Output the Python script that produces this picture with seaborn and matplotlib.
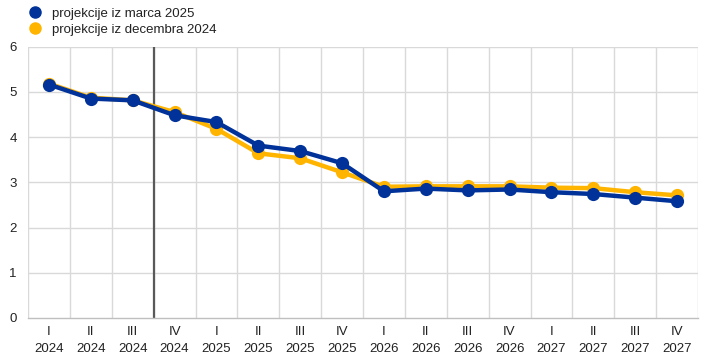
import matplotlib
matplotlib.use("Agg")
import matplotlib.pyplot as plt
from matplotlib.lines import Line2D
import seaborn as sns
import pandas as pd
import numpy as np

quarters = ["I", "II", "III", "IV"] * 4
years = ["2024"] * 4 + ["2025"] * 4 + ["2026"] * 4 + ["2027"] * 4
tick_labels = [f"{q}\n{y}" for q, y in zip(quarters, years)]

march_2025 = [5.16, 4.85, 4.81, 4.48, 4.33, 3.81, 3.69, 3.42,
              2.80, 2.86, 2.82, 2.84, 2.78, 2.74, 2.66, 2.58]
december_2024 = [5.18, 4.87, 4.81, 4.55, 4.18, 3.64, 3.53, 3.22,
                 2.90, 2.91, 2.91, 2.91, 2.88, 2.87, 2.78, 2.71]

label_march = "projekcije iz marca 2025"
label_dec = "projekcije iz decembra 2024"

c_blue = "#003299"
c_yellow = "#FFB400"

sns.set_theme(style="white")
plt.rcParams["font.family"] = ["Liberation Sans", "DejaVu Sans"]

fig = plt.figure(figsize=(7.09, 3.60), dpi=100)
ax = fig.add_axes([28 / 709, 42 / 360, 670 / 709, 271.5 / 360])

pos = np.arange(len(tick_labels))
df_dec = pd.DataFrame({"x": pos, "v": december_2024})
df_mar = pd.DataFrame({"x": pos, "v": march_2025})

sns.lineplot(data=df_dec, x="x", y="v", ax=ax, color=c_yellow, linewidth=3.2,
             marker="o", markersize=9.5, markeredgewidth=0, zorder=3)
sns.lineplot(data=df_mar, x="x", y="v", ax=ax, color=c_blue, linewidth=3.2,
             marker="o", markersize=9.5, markeredgewidth=0, zorder=4)

ax.set_xlim(-0.5, len(pos) - 0.5)
ax.set_ylim(0, 6)
ax.set_yticks(range(0, 7))
ax.set_xticks(pos)
ax.set_xticklabels(tick_labels, linespacing=1.5)
ax.set_xlabel("")
ax.set_ylabel("")

for b in np.arange(-0.5, len(pos), 1.0):
    ax.axvline(b, color="#d9d9d9", linewidth=1, zorder=0)
for yv in range(1, 7):
    ax.axhline(yv, color="#d9d9d9", linewidth=1, zorder=0)
ax.axvline(2.5, color="#595959", linewidth=1.6, zorder=2)

for s in ["top", "right", "left"]:
    ax.spines[s].set_visible(False)
ax.spines["bottom"].set_color("#bfbfbf")
ax.spines["bottom"].set_linewidth(1)
ax.tick_params(axis="both", length=0, labelsize=9.5, colors="#222222")
ax.tick_params(axis="x", pad=6)
ax.tick_params(axis="y", pad=8)

handles = [Line2D([], [], marker="o", linestyle="none", color=c_blue, markersize=8),
           Line2D([], [], marker="o", linestyle="none", color=c_yellow, markersize=8)]
fig.legend(handles, [label_march, label_dec], loc="upper left",
           bbox_to_anchor=(20 / 709, 0.997), frameon=False, fontsize=9.5,
           handletextpad=0.7, labelspacing=0.3, borderaxespad=0.1,
           handlelength=1.2, labelcolor="#222222")

fig.savefig("out.png", dpi=100)
